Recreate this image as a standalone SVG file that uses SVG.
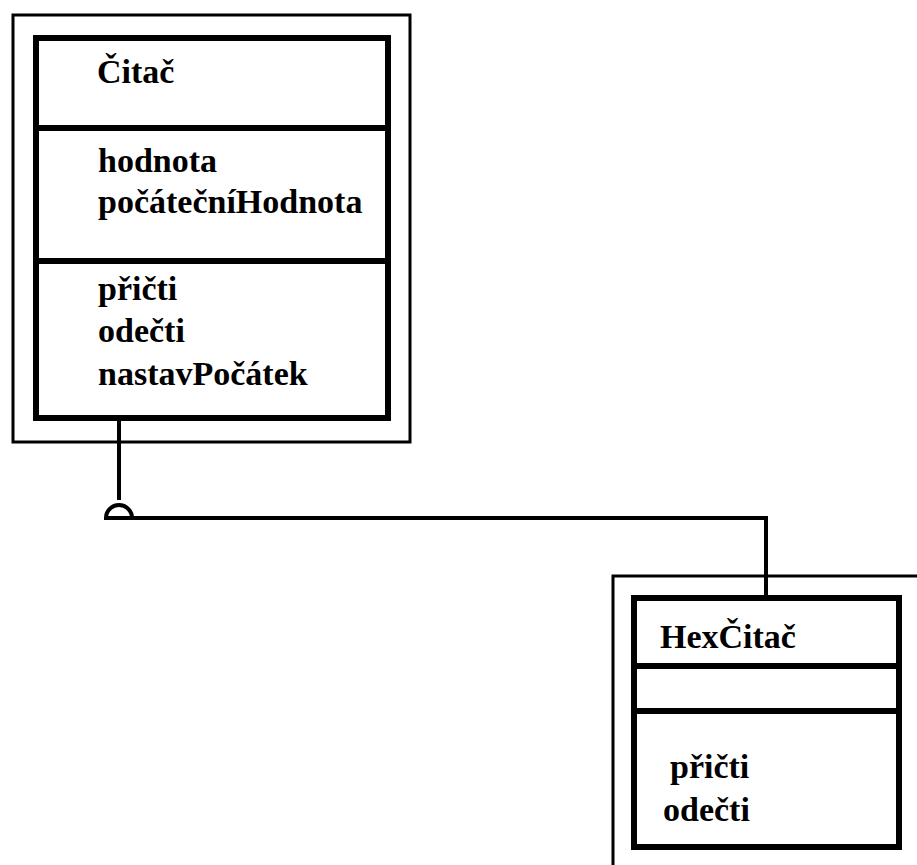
<svg xmlns="http://www.w3.org/2000/svg" width="917" height="865" viewBox="0 0 917 865">
<style>
.outer{fill:none;stroke:#000;stroke-width:3}
.inner{fill:none;stroke:#000;stroke-width:6}
.div{stroke:#000;stroke-width:6}
.t{font-family:"Liberation Serif","Times New Roman",serif;font-size:34px;font-weight:bold;fill:#000}
.conn{fill:none;stroke:#000;stroke-width:4}
</style>
<rect width="917" height="865" fill="#fff"/>
<g id="citac">
<rect class="outer" x="13" y="15" width="397" height="427"/>
<rect class="inner" x="36" y="38" width="352" height="380"/>
<line class="div" x1="36" y1="128" x2="388" y2="128"/>
<line class="div" x1="36" y1="261" x2="388" y2="261"/>
<text class="t" x="97" y="83">Čitač</text>
<text class="t" x="98" y="172">hodnota</text>
<text class="t" x="98" y="213">počátečníHodnota</text>
<text class="t" x="98" y="300">přičti</text>
<text class="t" x="98" y="342">odečti</text>
<text class="t" x="98" y="385">nastavPočátek</text>
</g>
<g id="hexcitac">
<rect class="outer" x="613" y="576" width="320" height="300"/>
<rect class="inner" x="634" y="598" width="265" height="249"/>
<line class="div" x1="634" y1="666" x2="899" y2="666"/>
<line class="div" x1="634" y1="711" x2="899" y2="711"/>
<text class="t" x="660" y="648">HexČitač</text>
<text class="t" x="670" y="778">přičti</text>
<text class="t" x="663" y="821">odečti</text>
</g>
<g id="connectors">
<line class="conn" x1="119" y1="418" x2="119" y2="500"/>
<path class="conn" stroke-width="3" d="M106,518 A13,13 0 0 1 132,518 Z"/>
<polyline class="conn" points="106,518 766,518 766,598"/>
</g>
</svg>
